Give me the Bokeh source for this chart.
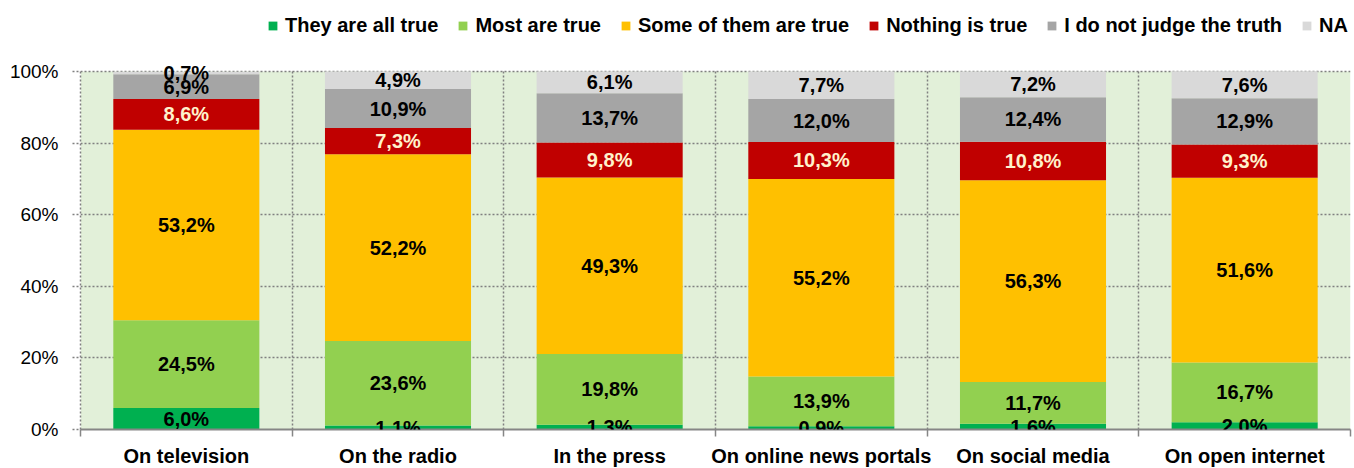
from bokeh.plotting import figure
from bokeh.models import (ColumnDataSource, LabelSet, FixedTicker, PrintfTickFormatter,
                          Range1d, BoxAnnotation)
from bokeh.core.properties import value
from bokeh.embed import file_html
from bokeh.resources import INLINE

categories = ["On television", "On the radio", "In the press",
              "On online news portals", "On social media", "On open internet"]
series = ["They are all true", "Most are true", "Some of them are true",
          "Nothing is true", "I do not judge the truth", "NA"]
all_true = [6.0, 1.1, 1.3, 0.9, 1.6, 2.0]
most_true = [24.5, 23.6, 19.8, 13.9, 11.7, 16.7]
some_true = [53.2, 52.2, 49.3, 55.2, 56.3, 51.6]
nothing_true = [8.6, 7.3, 9.8, 10.3, 10.8, 9.3]
no_judge = [6.9, 10.9, 13.7, 12.0, 12.4, 12.9]
na = [0.7, 4.9, 6.1, 7.7, 7.2, 7.6]
y_ticks = [0, 20, 40, 60, 80, 100]

colors = ["#00B050", "#92D050", "#FFC000", "#C00000", "#A5A5A5", "#D9D9D9"]
label_colors = ["black", "black", "black", "#FFF2CC", "black", "black"]
FONT = "Liberation Sans"

values = [all_true, most_true, some_true, nothing_true, no_judge, na]
keys = ["s%d" % i for i in range(len(series))]
xs = list(range(1, len(categories) + 1))
data = {"x": xs}
for k, v in zip(keys, values):
    data[k] = v
source = ColumnDataSource(data)

# frame: value axis 0..100 occupies the lower 358 px, legend lives in the top strip
FRAME_H = 429
AXIS_PX = 358
y_top = y_ticks[-1] * FRAME_H / AXIS_PX

p = figure(frame_width=1270, frame_height=FRAME_H, title=None,
           output_backend="svg", toolbar_location=None,
           x_range=Range1d(0.5, len(categories) + 0.5), y_range=Range1d(0, y_top),
           min_border_left=80, min_border_right=4, min_border_top=0, min_border_bottom=39)
p.background_fill_color = "white"
p.border_fill_color = "white"
p.outline_line_color = None

p.add_layout(BoxAnnotation(bottom=y_ticks[0], top=y_ticks[-1], fill_color="#E2F0D9",
                           fill_alpha=1, line_color=None, level="image"))

p.vbar_stack(keys, x="x", width=0.69, fill_color=colors, line_color=None,
             source=source, legend_label=series)

# value labels
bottoms = [0.0] * len(categories)
for i, vals in enumerate(values):
    centers = [b + v / 2 for b, v in zip(bottoms, vals)]
    texts = [("%.1f" % v).replace(".", ",") + "%" for v in vals]
    bottoms = [b + v for b, v in zip(bottoms, vals)]
    ls = LabelSet(x="x", y="y", text="t",
                  source=ColumnDataSource(dict(x=xs, y=centers, t=texts)),
                  text_align="center", text_baseline="middle",
                  text_font=value(FONT), text_font_style="bold",
                  text_font_size="20px", text_color=label_colors[i])
    p.add_layout(ls)

# grids
grid_color = "#808080"
p.ygrid.ticker = FixedTicker(ticks=y_ticks)
p.ygrid.grid_line_color = grid_color
p.ygrid.grid_line_dash = "2 2"
p.ygrid.grid_line_width = 1.5
boundaries = [x - 0.5 for x in xs] + [xs[-1] + 0.5]
p.xgrid.ticker = FixedTicker(ticks=boundaries)
p.xgrid.grid_line_color = grid_color
p.xgrid.grid_line_dash = "2 2"
p.xgrid.grid_line_width = 1.5
try:
    p.xgrid.cross_bounds = (y_ticks[0], y_ticks[-1])
except Exception:
    p.xgrid.grid_line_color = None
    p.segment(x0=boundaries, x1=boundaries, y0=[y_ticks[0]] * len(boundaries),
              y1=[y_ticks[-1]] * len(boundaries), line_color=grid_color,
              line_dash="2 2", line_width=1.5, level="underlay")

# y axis
p.yaxis.bounds = (y_ticks[0], y_ticks[-1])
p.yaxis.ticker = FixedTicker(ticks=y_ticks)
p.yaxis.formatter = PrintfTickFormatter(format="%d%%")
p.yaxis.axis_line_color = grid_color
p.yaxis.axis_line_dash = "2 2"
p.yaxis.axis_line_width = 1.5
p.yaxis.major_tick_line_color = grid_color
p.yaxis.major_tick_line_dash = "2 2"
p.yaxis.major_tick_line_width = 1.5
p.yaxis.major_tick_out = 8
p.yaxis.major_tick_in = 0
p.yaxis.minor_tick_line_color = None
p.yaxis.major_label_standoff = 14
p.yaxis.major_label_text_font = FONT
p.yaxis.major_label_text_font_size = "19px"
p.yaxis.major_label_text_color = "black"

# x axis
p.xaxis.ticker = FixedTicker(ticks=xs, minor_ticks=boundaries)
p.xaxis.major_label_overrides = {x: c for x, c in zip(xs, categories)}
p.xaxis.axis_line_color = "#868686"
p.xaxis.axis_line_width = 2
p.xaxis.major_tick_line_color = None
p.xaxis.major_tick_out = 0
p.xaxis.major_tick_in = 0
p.xaxis.minor_tick_line_color = "#868686"
p.xaxis.minor_tick_line_width = 1.5
p.xaxis.minor_tick_out = 7
p.xaxis.minor_tick_in = 0
p.xaxis.major_label_standoff = 8
p.xaxis.major_label_text_font = FONT
p.xaxis.major_label_text_font_style = "bold"
p.xaxis.major_label_text_font_size = "20px"
p.xaxis.major_label_text_color = "black"

# legend in the top strip of the frame
lg = p.legend[0]
lg.orientation = "horizontal"
lg.location = (187, 392)
lg.glyph_width = 11
lg.glyph_height = 11
lg.label_standoff = 7
lg.spacing = 19
lg.padding = 0
lg.margin = 0
lg.border_line_color = None
lg.background_fill_alpha = 0
lg.label_text_font = FONT
lg.label_text_font_style = "bold"
lg.label_text_font_size = "20px"
lg.label_text_color = "black"

open("out.html", "w").write(file_html(p, INLINE))
